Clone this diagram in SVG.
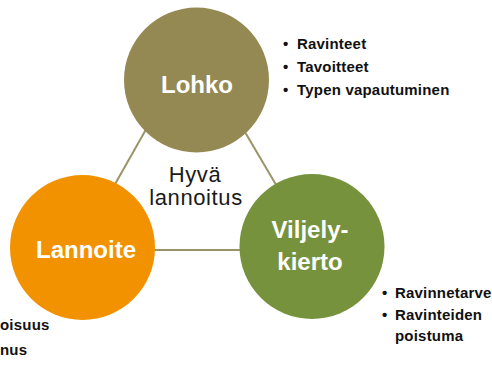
<svg xmlns="http://www.w3.org/2000/svg" width="492" height="379" viewBox="0 0 492 379">
<style>
.conn{stroke:#9b9468;stroke-width:2;fill:none}
.lbl{font-family:"Liberation Sans",Arial,sans-serif;font-weight:bold;font-size:24px;fill:#fff;text-anchor:middle}
.bul{font-family:"Liberation Sans",Arial,sans-serif;font-weight:bold;font-size:15px;letter-spacing:0.2px;fill:#111}
.mid{font-family:"Liberation Sans",Arial,sans-serif;font-size:22px;letter-spacing:0.6px;fill:#1a1a1a;text-anchor:middle}
</style>
<rect width="492" height="379" fill="#fff"/>
<g id="connectors">
<line class="conn" x1="157" y1="110" x2="106" y2="200"/>
<line class="conn" x1="232" y1="110" x2="285" y2="200"/>
<line class="conn" x1="150" y1="250" x2="245" y2="250"/>
</g>
<g id="lohko">
<circle cx="196.5" cy="80" r="72.5" fill="#948953"/>
<text class="lbl" x="197" y="93">Lohko</text>
</g>
<g id="lannoite">
<circle cx="82.5" cy="247.5" r="72.5" fill="#f39200"/>
<text class="lbl" x="86" y="258">Lannoite</text>
</g>
<g id="viljelykierto">
<circle cx="312" cy="246.5" r="72.5" fill="#76923c"/>
<text class="lbl" x="310" y="238">Viljely-</text>
<text class="lbl" x="310" y="270">kierto</text>
</g>
<g id="center">
<text class="mid" x="195" y="182">Hyvä</text>
<text class="mid" x="196" y="205">lannoitus</text>
</g>
<g id="lohko-list">
<text class="bul" x="283" y="49">•</text><text class="bul" x="297" y="49">Ravinteet</text>
<text class="bul" x="283" y="72">•</text><text class="bul" x="297" y="72">Tavoitteet</text>
<text class="bul" x="283" y="95">•</text><text class="bul" x="297" y="95">Typen vapautuminen</text>
</g>
<g id="viljely-list">
<text class="bul" x="382" y="298">•</text><text class="bul" x="395" y="298">Ravinnetarve</text>
<text class="bul" x="382" y="320">•</text><text class="bul" x="395" y="320">Ravinteiden</text>
<text class="bul" x="395" y="341">poistuma</text>
</g>
<g id="lannoite-list">
<text class="bul" x="0" y="330">oisuus</text>
<text class="bul" x="0" y="355">nus</text>
</g>
</svg>
